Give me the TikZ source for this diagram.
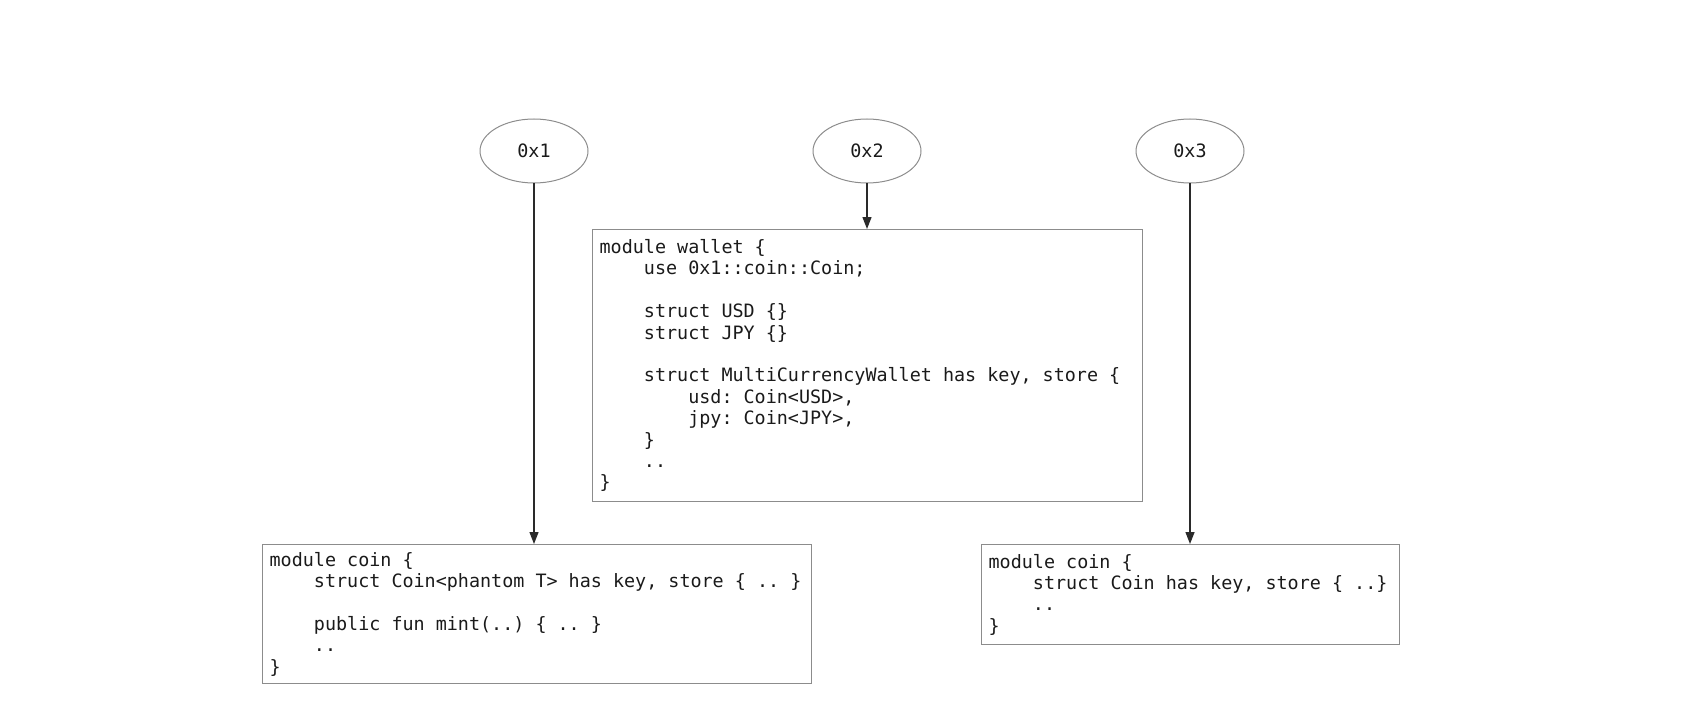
\documentclass[tikz,border=0pt]{standalone}
\usepackage{fontspec}
\newfontfamily\codefont{DejaVu Sans Mono}
\usetikzlibrary{arrows.meta,shapes.geometric}
\definecolor{edge}{HTML}{8C8C8C}
\definecolor{arr}{HTML}{2A2A2A}
\definecolor{txt}{HTML}{1A1A1A}
\newcommand\indA{\phantom{0000}}
\newcommand\monospacing{\spaceskip=0pt\xspaceskip=0pt\frenchspacing}
\begin{document}
\begin{tikzpicture}[x=1pt,y=-1pt,
  every node/.style={font=\codefont\fontsize{18.4}{21.4}\selectfont, text=txt},
  addr/.style={ellipse, draw=edge, line width=1pt, minimum width=108pt, minimum height=64pt, inner sep=0pt},
  code/.style={rectangle, draw=edge, line width=1.3pt, align=left, inner xsep=7pt, inner ysep=0pt, anchor=north west},
  link/.style={draw=arr, line width=1.3pt, -{Triangle[length=12pt,width=9pt]}}]
\useasboundingbox (0,0) rectangle (1688,714);

\node[addr] (a1) at (534,151) {0x1};
\node[addr] (a2) at (867,151) {0x2};
\node[addr] (a3) at (1190,151) {0x3};

\node[code, text width=536pt, minimum height=272pt] (wallet) at (592,229) {\monospacing
module wallet \{\\
\indA use 0x1::coin::Coin;\\
\mbox{}\\
\indA struct USD \{\}\\
\indA struct JPY \{\}\\
\mbox{}\\
\indA struct MultiCurrencyWallet has key, store \{\\
\indA\indA usd: Coin<USD>,\\
\indA\indA jpy: Coin<JPY>,\\
\indA \}\\
\indA ..\\
\}};

\node[code, text width=535pt, minimum height=139pt] (coinA) at (262,544) {\monospacing
module coin \{\\
\indA struct Coin<phantom T> has key, store \{ .. \}\\
\mbox{}\\
\indA public fun mint(..) \{ .. \}\\
\indA ..\\
\}};

\node[code, text width=404pt, minimum height=100pt] (coinB) at (981,544) {\monospacing
module coin \{\\
\indA struct Coin has key, store \{ ..\}\\
\indA ..\\
\}};

\draw[link] (a1.south) -- (a1.south |- coinA.north);
\draw[link] (a2.south) -- (a2.south |- wallet.north);
\draw[link] (a3.south) -- (a3.south |- coinB.north);
\end{tikzpicture}
\end{document}
